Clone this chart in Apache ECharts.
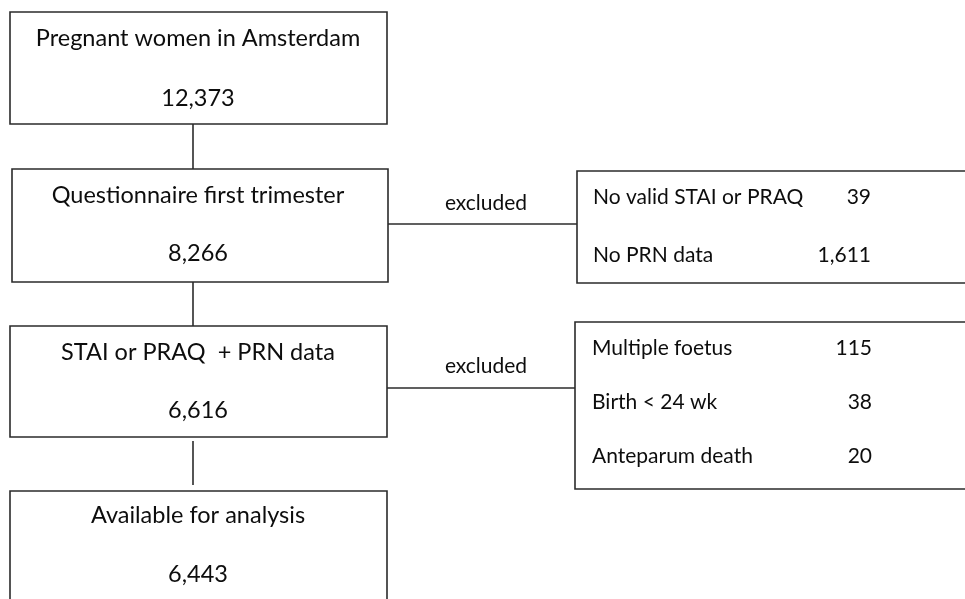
<!DOCTYPE html>
<html>
<head>
<meta charset="utf-8">
<script src="https://cdn.jsdelivr.net/npm/echarts@6/dist/echarts.min.js"></script>
<style>
  html, body { margin: 0; padding: 0; background: #fff; }
  #chart { width: 965px; height: 599px; }
</style>
</head>
<body>
<div id="chart"></div>
<script>
// flow chart content
const stepLabels = ['Pregnant women in Amsterdam', 'Questionnaire first trimester', 'STAI or PRAQ  + PRN data', 'Available for analysis'];
const stepCounts = [12373, 8266, 6616, 6443];
const exclusionLabel = 'excluded';
const excl1Reasons = ['No valid STAI or PRAQ', 'No PRN data'];
const excl1Counts = [39, 1611];
const excl2Reasons = ['Multiple foetus', 'Birth < 24 wk', 'Anteparum death'];
const excl2Counts = [115, 38, 20];

// layout (pixel space of the 965x599 canvas)
const mainBoxes = [
    [10, 12, 387, 124],
    [12, 169, 388, 282],
    [10, 326, 387, 437],
    [10, 491, 387, 640]
];
const sideBoxes = [
    [577, 171, 990, 283],
    [575, 322, 990, 489]
];
const FONT = 'Lato, "Open Sans", sans-serif';
const FS_MAIN = 23.5;
const FS_SIDE = 21;
const INK = '#0d0d0d';
const LINE = '#2b2b2b';

const fmt = n => n.toLocaleString('en-US');

const rects = mainBoxes.concat(sideBoxes);
const lines = [
    [193, 124, 193, 169],
    [193, 282, 193, 326],
    [193, 441, 193, 485],
    [388, 224, 577, 224],
    [387, 388, 575, 388]
];

const texts = [];
const titleY = [38, 195, 352, 515];
const countY = [98, 253, 410, 574];
stepLabels.forEach((t, i) => {
    texts.push({value: [198, titleY[i]], text: t, align: 'center', size: FS_MAIN});
    texts.push({value: [198, countY[i]], text: fmt(stepCounts[i]), align: 'center', size: FS_MAIN});
});
texts.push({value: [486, 203], text: exclusionLabel, align: 'center', size: FS_SIDE});
texts.push({value: [486, 366], text: exclusionLabel, align: 'center', size: FS_SIDE});
const ex1Y = [197, 255];
excl1Reasons.forEach((t, i) => {
    texts.push({value: [593, ex1Y[i]], text: t, align: 'left', size: FS_SIDE});
    texts.push({value: [871, ex1Y[i]], text: fmt(excl1Counts[i]), align: 'right', size: FS_SIDE});
});
const ex2Y = [348, 402, 456];
excl2Reasons.forEach((t, i) => {
    texts.push({value: [592, ex2Y[i]], text: t, align: 'left', size: FS_SIDE});
    texts.push({value: [872, ex2Y[i]], text: fmt(excl2Counts[i]), align: 'right', size: FS_SIDE});
});

const chart = echarts.init(document.getElementById('chart'));
chart.setOption({
    animation: false,
    backgroundColor: '#fff',
    grid: {left: 0, right: 0, top: 0, bottom: 0},
    xAxis: {type: 'value', min: 0, max: 965, show: false},
    yAxis: {type: 'value', min: 0, max: 599, inverse: true, show: false},
    series: [
        {
            type: 'custom',
            data: rects,
            renderItem: (params, api) => {
                const p0 = api.coord([api.value(0), api.value(1)]);
                const p1 = api.coord([api.value(2), api.value(3)]);
                return {
                    type: 'rect',
                    shape: {x: p0[0], y: p0[1], width: p1[0] - p0[0], height: p1[1] - p0[1]},
                    style: {fill: '#fff', stroke: LINE, lineWidth: 1.6}
                };
            }
        },
        {
            type: 'custom',
            data: lines,
            renderItem: (params, api) => {
                const p0 = api.coord([api.value(0), api.value(1)]);
                const p1 = api.coord([api.value(2), api.value(3)]);
                return {
                    type: 'line',
                    shape: {x1: p0[0], y1: p0[1], x2: p1[0], y2: p1[1]},
                    style: {stroke: LINE, lineWidth: 1.6}
                };
            }
        },
        {
            type: 'custom',
            data: texts,
            z: 5,
            renderItem: (params, api) => {
                const d = texts[params.dataIndex];
                const p = api.coord(d.value);
                return {
                    type: 'text',
                    style: {
                        x: p[0], y: p[1], text: d.text,
                        align: d.align, verticalAlign: 'middle',
                        fill: INK, fontSize: d.size, fontFamily: FONT
                    }
                };
            }
        }
    ]
});
</script>
</body>
</html>
